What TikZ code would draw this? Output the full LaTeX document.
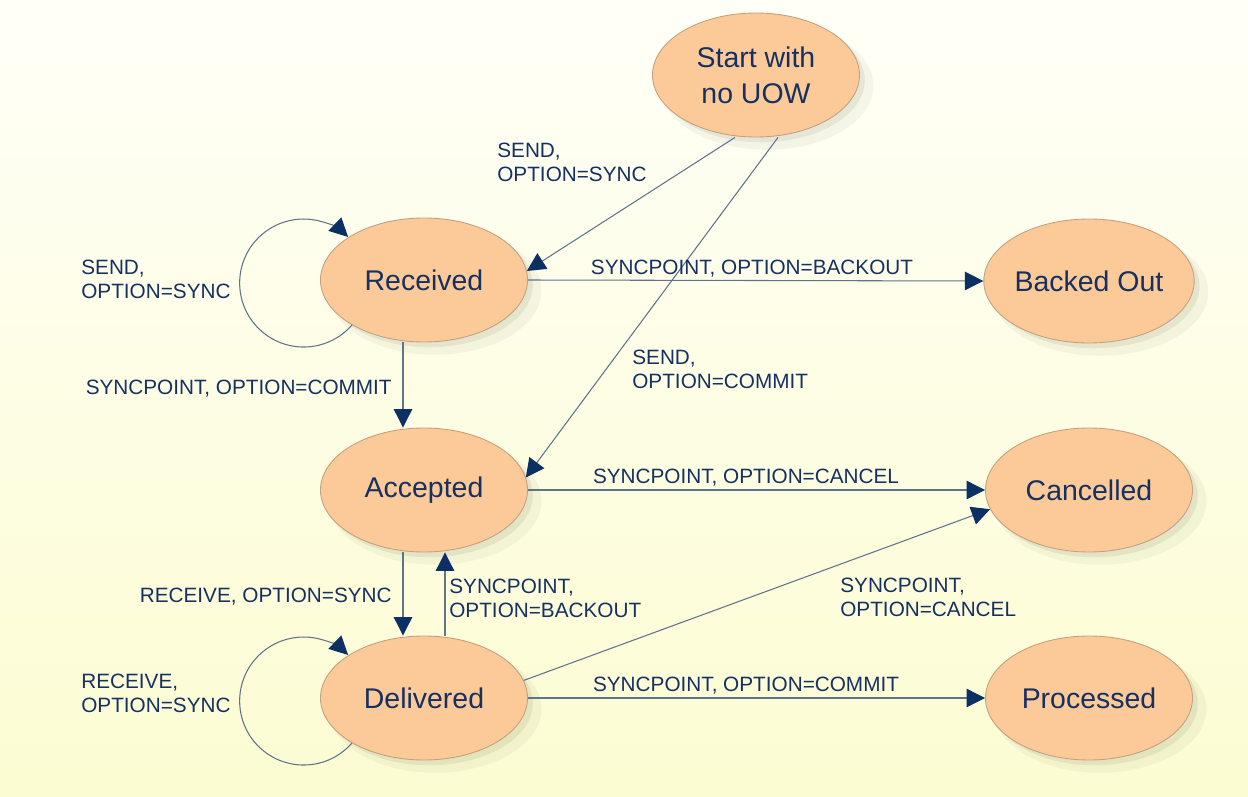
\documentclass[tikz,border=0pt]{standalone}
\usepackage{fontspec}
\setmainfont{Liberation Sans}
\usepackage{xcolor}
\definecolor{statefill}{RGB}{252,202,152}
\definecolor{stateedge}{RGB}{196,160,128}
\definecolor{textnavy}{RGB}{22,48,98}
\definecolor{linegray}{RGB}{95,115,138}
\definecolor{headnavy}{RGB}{12,48,100}
\definecolor{bgtop}{RGB}{255,255,248}
\definecolor{bgbottom}{RGB}{252,252,210}
\definecolor{shadowtint}{RGB}{90,100,60}
\usepackage{tikz}
\usetikzlibrary{shapes.geometric,arrows.meta,shadows}

\begin{document}
\begin{tikzpicture}[
    state/.style={ellipse, draw=stateedge, line width=0.5pt, fill=statefill,
        minimum width=4.14cm, minimum height=2.48cm, inner sep=0pt,
        align=center, text=textnavy, font=\fontsize{16.2}{20.5}\selectfont,
        drop shadow={shadow xshift=3pt, shadow yshift=-3pt, opacity=0.10, fill=shadowtint},
        drop shadow={shadow xshift=6pt, shadow yshift=-6pt, shadow scale=1.03, opacity=0.06, fill=shadowtint}},
    tlabel/.style={inner sep=0pt, align=left, text=textnavy,
        font=\fontsize{11.8}{13.7}\selectfont},
    flow/.style={draw=linegray, line width=0.6pt,
        -{Triangle[length=0.37cm,width=0.37cm,color=headnavy]}}
]
            % Background
            \useasboundingbox (0,0) rectangle (24.96,-15.94);
            \shade[top color=bgtop, bottom color=bgbottom] (0,0) rectangle (24.96,-15.94);

            % States
            \node[state] (start) at (15.12,-1.5) {Start with\\no UOW};
            \node[state] (received) at (8.48,-5.6) {Received};
            \node[state] (backed) at (21.78,-5.62) {Backed Out};
            \node[state] (accepted) at (8.48,-9.8) {Accepted};
            \node[state] (cancelled) at (21.78,-9.8) {Cancelled};
            \node[state] (delivered) at (8.48,-13.96) {Delivered};
            \node[state] (processed) at (21.78,-13.96) {Processed};

            % Transitions
            \draw[flow] ([xshift=-0.42cm]start.south) -- (received.5);
            \draw[flow] ([xshift=0.44cm]start.south) -- (accepted.7);
            \draw[flow] (received.212) arc[start angle=-41, end angle=-314, radius=1.28cm];
            \draw[flow] (received.east) -- (backed.west);
            \draw[flow] ([xshift=-0.42cm]received.south) -- ([xshift=-0.42cm]accepted.north);
            \draw[flow] (accepted.east) -- (cancelled.west);
            \draw[flow] ([xshift=-0.42cm]accepted.south) -- ([xshift=-0.42cm]delivered.north);
            \draw[flow] ([xshift=0.42cm]delivered.north) -- ([xshift=0.42cm]accepted.south);
            \draw[flow] (delivered.10) -- (cancelled.191);
            \draw[flow] (delivered.212) arc[start angle=-41, end angle=-314, radius=1.28cm];
            \draw[flow] (delivered.east) -- (processed.west);

            % Labels
            \node[tlabel, anchor=west] (sendsync) at (9.94,-3.24) {SEND,\\OPTION=SYNC};
            \node[tlabel, anchor=west] (sendcommit) at (12.64,-7.38) {SEND,\\OPTION=COMMIT};
            \node[tlabel, anchor=west] (sendloop) at (1.62,-5.58) {SEND,\\OPTION=SYNC};
            \node[tlabel] (spbackout) at (15.04,-5.38) {SYNCPOINT, OPTION=BACKOUT};
            \node[tlabel, anchor=east] (spcommit) at (7.84,-7.78) {SYNCPOINT, OPTION=COMMIT};
            \node[tlabel] (spcancel) at (14.92,-9.56) {SYNCPOINT, OPTION=CANCEL};
            \node[tlabel, anchor=east] (recvsync) at (7.84,-11.94) {RECEIVE, OPTION=SYNC};
            \node[tlabel, anchor=west] (spback) at (8.98,-11.96) {SYNCPOINT,\\OPTION=BACKOUT};
            \node[tlabel, anchor=west] (spcanc) at (16.8,-11.94) {SYNCPOINT,\\OPTION=CANCEL};
            \node[tlabel, anchor=west] (recvloop) at (1.62,-13.86) {RECEIVE,\\OPTION=SYNC};
            \node[tlabel] (spcommitb) at (14.92,-13.72) {SYNCPOINT, OPTION=COMMIT};
        \end{tikzpicture}
\end{document}
